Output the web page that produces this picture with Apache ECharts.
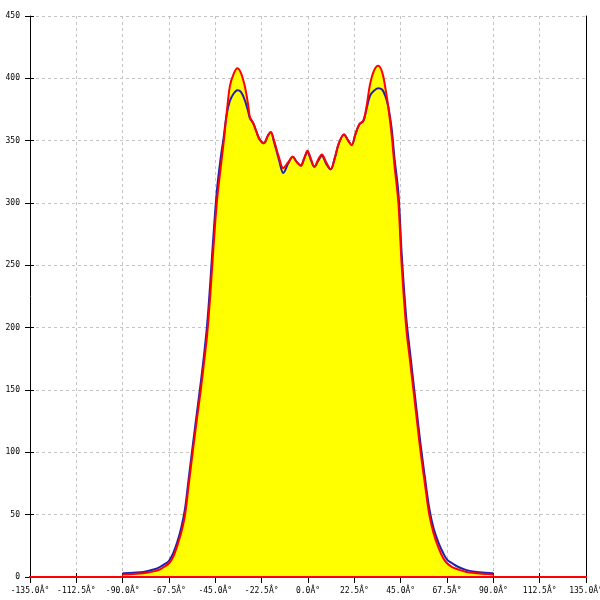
<!DOCTYPE html>
<html>
<head>
<meta charset="utf-8">
<script src="https://cdn.jsdelivr.net/npm/echarts@6/dist/echarts.min.js"></script>
<style>html,body{margin:0;padding:0;background:#fff}#c{width:600px;height:600px}</style>
</head>
<body>
<div id="c"></div>
<script>
var angles = [-90,-85,-80,-75,-72,-70,-67.5,-65.5,-63.5,-61.5,-59.7,-58,-56,-54,-52,-50.5,-49,-47.5,-46.5,-44.3,-42.5,-41,-39.5,-37.9,-36,-34.3,-32.5,-30.6,-29,-28.2,-26.6,-25,-23.5,-21.4,-19.5,-18.1,-16.5,-14,-12,-9.5,-7.4,-5.5,-3.5,-1.8,-0.3,1.5,3.1,5,6.7,9,11,13,15,17.5,19.5,21.2,23,24.9,26.9,28.5,30.1,32,34.1,36,37.5,39,40.6,42,43.9,45.5,47.7,49.5,51.2,53,54.7,57,58.9,61,63.5,65.7,67.5,70,73,77,82,86,90];
var redValues = [2,2.5,3,4.5,6,8,11,16,25,36,50,73,100,126,151,172,194,225,250,300,327,348,372,394,404,408,404,393,378,369,364,357,351,348,354,357,350,336,328,333,337,333,330,336,342,335,329,335,339,332,327,336,348,355,350,346.5,355,363,366,378,395,406,410,405,393,377,355,330,300,250,200,174,150,124,100,72,50,35,23,15,11,8,6,4,3,2.5,2];
var blueValues = [3,3.5,4,6,8,10,13,19,28,40,55,78,105,131,157,178,202,235,260,309,335,352,371,382,388,390.5,389,382,373,368,364,357,351,348,354,357,349,334,324,332,337,333,330,336,341,334,329,334,338,331,327,336,348,355,350,346.5,355,363,366,376,386,390,392,391,386,377,360,336,308,259,208,181,156,130,106,77,55,39,27,19,14,11,8,5.5,4,3.5,3];
var baselineX = [-150, 150];
var baselineY = [0, 0];
var xTickLabels = ['-135.0Â°','-112.5Â°','-90.0Â°','-67.5Â°','-45.0Â°','-22.5Â°','0.0Â°','22.5Â°','45.0Â°','67.5Â°','90.0Â°','112.5Â°','135.0Â°'];

function pairs(xs, ys){ return xs.map(function(x,i){ return [x, ys[i]]; }); }
var font = '"DejaVu Sans Mono", monospace';
var chart = echarts.init(document.getElementById('c'));
chart.setOption({
  animation: false,
  backgroundColor: '#fff',
  grid: {left: 30, right: 14, top: 16, bottom: 23, containLabel: false, outerBoundsMode: 'none'},
  xAxis: [{
    type: 'value', min: -135, max: 135, interval: 22.5,
    axisLine: {show: true, onZero: false, lineStyle: {color: '#000', width: 1}},
    axisTick: {show: true, length: 6, lineStyle: {color: '#000'}},
    axisLabel: {show: true, margin: 10, color: '#000', fontFamily: font, fontSize: 8,
      showMinLabel: true, showMaxLabel: true, hideOverlap: false,
      formatter: function(v){ return xTickLabels[Math.round((v + 135) / 22.5)]; }},
    splitLine: {show: true, lineStyle: {color: '#c4c4c4', type: [3,3], width: 1}}
  }, {
    type: 'value', min: -135, max: 135, interval: 22.5, position: 'bottom',
    axisLine: {show: false, onZero: false}, axisLabel: {show: false}, splitLine: {show: false},
    axisTick: {show: true, inside: true, length: 4, lineStyle: {color: '#000'}}
  }],
  yAxis: [{
    type: 'value', min: 0, max: 450, interval: 50,
    axisLine: {show: true, onZero: false, lineStyle: {color: '#000', width: 1}},
    axisTick: {show: true, length: 5, lineStyle: {color: '#000'}},
    axisLabel: {show: true, margin: 10, color: '#000', fontFamily: font, fontSize: 8},
    splitLine: {show: true, lineStyle: {color: '#c4c4c4', type: [3,3], width: 1}}
  }, {
    type: 'value', min: 0, max: 450, interval: 50, position: 'left',
    axisLine: {show: false, onZero: false}, axisLabel: {show: false}, splitLine: {show: false},
    axisTick: {show: true, inside: true, length: 4, lineStyle: {color: '#000'}}
  }, {
    type: 'value', min: 0, max: 450, interval: 50, position: 'right',
    axisLine: {show: true, onZero: false, lineStyle: {color: '#000', width: 1}},
    axisLabel: {show: false}, splitLine: {show: false}, axisTick: {show: false}
  }],
  series: [{
    name: 'fill', type: 'line', data: pairs(angles, redValues), smooth: 0.35,
    symbol: 'none', lineStyle: {width: 0, color: '#ffff00'},
    areaStyle: {color: '#ffff00', opacity: 1}, z: 2
  }, {
    name: 'blue', type: 'line', data: pairs(angles, blueValues), smooth: 0.35,
    symbol: 'none', lineStyle: {width: 2, color: '#2020b0'}, z: 3
  }, {
    name: 'red', type: 'line', data: pairs(angles, redValues), smooth: 0.35,
    symbol: 'none', lineStyle: {width: 2, color: '#ff0000'}, z: 4
  }, {
    name: 'baseline', type: 'line', data: pairs(baselineX, baselineY), clip: false,
    symbol: 'none', lineStyle: {width: 2, color: '#ff0000'}, z: 5
  }]
});
</script>
</body>
</html>
